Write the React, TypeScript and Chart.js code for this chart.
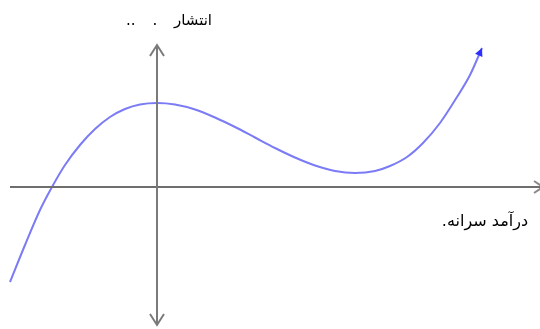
import React, { useEffect, useRef } from "react";
import { Chart, registerables } from "chart.js";

Chart.register(...registerables);

// Curve (units: 1 = 10px, origin at the axes crossing)
const curveX = [-14.7, -13.2, -11.7, -10.5, -9.2, -7.7, -6.2, -4.7, -3.2, -1.7, 0, 1.8, 3.8, 5.8, 7.8, 9.8, 11.8, 13.8, 15.8, 17.8, 19.8, 21.8, 23.3, 25.0, 26.6, 28.3, 30.0, 31.3, 32.5];
const curveY = [-9.5, -5.8, -2.3, 0, 2.2, 4.2, 5.8, 7.0, 7.8, 8.25, 8.4, 8.25, 7.75, 6.95, 6.0, 4.95, 3.9, 2.95, 2.15, 1.6, 1.4, 1.6, 2.1, 3.0, 4.4, 6.4, 9.0, 11.2, 13.9];

// Axis lines
const hAxisX = [-14.7, 38.6];
const hAxisY = [0, 0];
const vAxisX = [0, 0];
const vAxisY = [-13.8, 14.2];

const yAxisLabel = "انتشار . ..";
const xAxisLabel = "درآمد سرانه.";

const toPoints = (xs: number[], ys: number[]) => xs.map((x, i) => ({ x, y: ys[i] }));

const arrowPlugin = {
  id: "arrowHeads",
  afterDatasetsDraw(chart: any) {
    const ctx = chart.ctx as CanvasRenderingContext2D;
    chart.data.datasets.forEach((ds: any, i: number) => {
      const mode = ds.arrowMode;
      if (!mode) return;
      const pts = chart.getDatasetMeta(i).data;
      if (pts.length < 2) return;
      const draw = (tip: any, from: any) => {
        const ang = Math.atan2(tip.y - from.y, tip.x - from.x);
        const len = ds.arrowLength;
        const hw = ds.arrowHalfWidth;
        const bx = tip.x - Math.cos(ang) * len;
        const by = tip.y - Math.sin(ang) * len;
        const px = -Math.sin(ang) * hw;
        const py = Math.cos(ang) * hw;
        ctx.save();
        ctx.beginPath();
        ctx.moveTo(bx + px, by + py);
        ctx.lineTo(tip.x, tip.y);
        ctx.lineTo(bx - px, by - py);
        if (ds.arrowFilled) {
          ctx.closePath();
          ctx.fillStyle = ds.arrowColor;
          ctx.fill();
        } else {
          ctx.strokeStyle = ds.arrowColor;
          ctx.lineWidth = 2;
          ctx.lineJoin = "miter";
          ctx.stroke();
        }
        ctx.restore();
      };
      const n = pts.length;
      draw(pts[n - 1], pts[n - 2]);
      if (mode === "both") draw(pts[0], pts[1]);
    });
  },
};

const labelPlugin = {
  id: "rtlLabels",
  afterDraw(chart: any) {
    const ctx = chart.ctx as CanvasRenderingContext2D;
    const xs = chart.scales.x;
    const ys = chart.scales.y;
    const ox = xs.getPixelForValue(0);
    const oy = ys.getPixelForValue(0);
    const top = ys.getPixelForValue(vAxisY[1]);
    ctx.save();
    (ctx as any).direction = "rtl";
    ctx.fillStyle = "#000";
    ctx.textAlign = "right";
    ctx.textBaseline = "middle";
    ctx.font = '15px "DejaVu Sans", sans-serif';
    (ctx as any).wordSpacing = "12px";
    ctx.fillText(yAxisLabel, ox + 55, top - 24);
    (ctx as any).wordSpacing = "0px";
    ctx.font = '16px "DejaVu Sans", sans-serif';
    ctx.fillText(xAxisLabel, chart.chartArea.right - 12, oy + 35);
    ctx.restore();
  },
};

export default function App() {
  const ref = useRef<HTMLCanvasElement | null>(null);
  useEffect(() => {
    if (!ref.current) return;
    const chart = new Chart(ref.current, {
      type: "scatter",
      data: {
        datasets: [
          {
            data: toPoints(vAxisX, vAxisY),
            showLine: true,
            borderColor: "#7a7a7a",
            borderWidth: 2,
            pointRadius: 0,
            clip: false,
            arrowMode: "both",
            arrowLength: 11,
            arrowHalfWidth: 7,
            arrowColor: "#7a7a7a",
            arrowFilled: false,
          } as any,
          {
            data: toPoints(hAxisX, hAxisY),
            showLine: true,
            borderColor: "#6e6e6e",
            borderWidth: 2,
            pointRadius: 0,
            clip: false,
            arrowMode: "end",
            arrowLength: 9,
            arrowHalfWidth: 6,
            arrowColor: "#8a8a8a",
            arrowFilled: false,
          } as any,
          {
            data: toPoints(curveX, curveY),
            showLine: true,
            borderColor: "#7b7bf5",
            borderWidth: 2,
            pointRadius: 0,
            cubicInterpolationMode: "monotone",
            clip: false,
            arrowMode: "end",
            arrowLength: 8,
            arrowHalfWidth: 4,
            arrowColor: "#2f2fff",
            arrowFilled: true,
          } as any,
        ],
      },
      options: {
        animation: false,
        responsive: false,
        maintainAspectRatio: false,
        layout: { padding: 0 },
        plugins: { legend: { display: false }, tooltip: { enabled: false }, title: { display: false } },
        events: [],
        scales: {
          x: { type: "linear", min: -15.7, max: 38.3, display: false },
          y: { type: "linear", min: -14.2, max: 18.7, display: false },
        },
      },
      plugins: [arrowPlugin, labelPlugin],
    });
    return () => chart.destroy();
  }, []);
  return (
    <div style={{ position: "fixed", left: 0, top: 0, width: 540, height: 329, background: "#fff" }}>
      <canvas ref={ref} width={540} height={329} style={{ width: 540, height: 329, display: "block" }} />
    </div>
  );
}
